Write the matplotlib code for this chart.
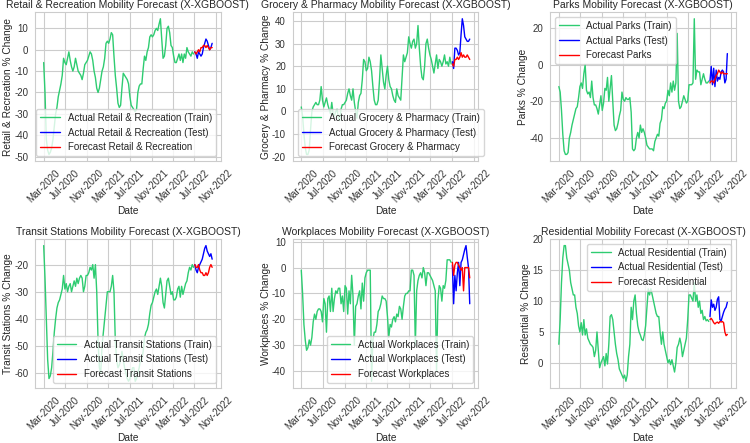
import matplotlib
matplotlib.use("Agg")
import matplotlib.pyplot as plt
import matplotlib.dates as mdates
import seaborn as sns
import pandas as pd

sns.set_style("whitegrid")
plt.rcParams['font.family'] = ['Liberation Sans', 'DejaVu Sans']
plt.rcParams['axes.unicode_minus'] = False

# weekly-ish readings, train Mar-2020 .. late Jun-2022, test Jul .. early Oct 2022
retail_train = [-6, -20, -42, -47, -49, -48, -46, -42, -36, -30, -27, -22, -19, -16, -12, -4,
                -6, -7, -4, -1, -5, -8, -10, -8, -4, -7, -10, -11, -12, -14, -11, -7, -6, -5,
                -3, -1, -2, -5, -10, -13, -18, -20, -18, -14, -10, -8, -4, 3, 4, 3, 5, 8, 7,
                -3, -12, -18, -25, -27, -26, -18, -11, -12, -13, -14, -16, -22, -26, -27, -28,
                -29, -28, -20, -17, -16, -16, -9, -3, -5, -1, 1, 6, 7, 6, 7, 9, 10, 9, 12, 14.5,
                5, -4, -3, 2, 10, 11, 8, 2, 1, -3, -6, -6, -4, -2, -5, -2, -6, -2, -4, 1, -1,
                -2, -3, -1, -2]
retail_test = [-1, -2, -4, -1, -2, -3, -2, 1, 3, 5, 4, 2, 0, 1, 3]
retail_fc = [-1, -2, -1, 0, -1, 1, 1, 2, 2, 1, 2, 1, 0, 1, 1]

grocery_train = [2, -2, -10, -16, -19, -19, -17, -8, 0, 2, 3, 4, 3, 3, 5, 11, 5, 2, 4, 6, 3,
                 1, -1, 4, -1, -2, 0, 1, -3, -4, 1, 3, 3, 4, 5, 8, 10, 7, 5, 10, 4, 0, -3, 4,
                 7, 8, 14, 23, 22, 18, 19, 24, 22, 18, 11, 5, 3, 3, 5, 14, 25, 19, 13, 10, 16,
                 20, 14, 11, 10, 7, 5, 4, 10, 7, 6, 5, 15, 25, 22, 24, 26, 33, 30, 28, 31, 32,
                 28, 30, 38, 28, 20, 15, 14, 20, 30, 32, 28, 25, 23, 20, 17, 21, 25, 19, 23,
                 22, 20, 22, 25, 21, 22, 20, 24, 21]
grocery_test = [22, 19, 28, 28, 27, 25, 26, 34, 41, 38, 33, 32, 31, 31, 32]
grocery_fc = [21, 20, 23, 23, 24, 23, 24, 26, 24, 25, 24, 24, 25, 24, 23]

parks_train = [-12, -15, -25, -38, -47, -49, -49, -48, -40, -37, -33, -30, -27, -24, -23, -18,
               -12, -10, -13, -5, 0, -14, -16, -15, -18, -9, -18, -22, -22, -24, -27, -22, -17,
               -25, -21, -13, -14, -7, -20, -13, -6, -20, -33, -36, -35, -32, -28, -25, -15,
               -19, -20, -18, -19, -19, -18, -26, -46, -47, -46, -40, -37, -40, -33, -37, -35,
               -37, -40, -44, -45, -46, -46, -46, -47, -42, -40, -38, -39, -32, -30, -23, -24,
               -21, -20, -14, -17, -10, -15, -9, -14, -10, 17, -20, -24, -23, -20, -17, -19,
               -21, -20, -11, -11, -11, -10, 25, -8, -3, -4, -4, -11, -8, -5, -8, -10, -10, -9]
parks_test = [-9, -1, -11, -2, -12, -3, -9, -7, -8, -4, -3, -4, -10, -8, 6]
parks_fc = [-10, -9, -9, -10, -8, -6, -5, -3, -4, -5, -4, -5, -5, -5, -5]

transit_train = [-13, -25, -40, -55, -62, -61, -58, -52, -45, -40, -36, -34, -33, -31, -29,
                 -24, -29, -27, -30, -28, -27, -30, -28, -26, -28, -25, -27, -25, -24, -25,
                 -30, -28, -24, -24, -23, -21, -22, -20, -25, -20, -30, -48, -58, -60, -50,
                 -45, -40, -35, -30, -30, -30, -28, -24, -30, -48, -55, -58, -57, -55, -52,
                 -55, -58, -60, -62, -63, -62, -60, -58, -58, -63, -62, -60, -58, -55, -55,
                 -52, -47, -45, -44, -42, -38, -35, -34, -32, -30, -29, -31, -28, -25, -28,
                 -34, -36, -31, -26, -25, -28, -31, -30, -33, -33, -32, -29, -28, -32, -28,
                 -31, -29, -27, -26, -23, -21, -22, -20, -21]
transit_test = [-20, -22, -23, -21, -20, -19, -18, -16, -14, -13, -15, -16, -17, -16, -18]
transit_fc = [-20, -21, -21, -20, -22, -23, -23, -24, -24, -23, -24, -23, -21, -20, -21]

work_train = [-1, -10, -22, -28, -32, -31, -28, -30, -27, -21, -18, -20, -17, -16, -16, -17,
              -21, -12, -14, -25, -12, -11, -17, -8, -17, -12, -9, -10, -8, -8, -14, -11,
              -17, -7, -8, -18, -9, -14, -3, -11, -30, -15, -14, -11, -9, -16, -6, -13, -4,
              -2, -1, -1, -1, -44, -28, -25, -25, -22, -17, -16, -14, -11, -12, -12, -13,
              -19, -27, -22, -23, -20, -19, -21, -18, -19, -15, -16, -20, -15, -11, -10, -10,
              -9, -9, -1, -1, -3, -30, -9, -5, -3, -2, -4, 0, -2, -7, -2, -2, -3, -4, -5, -7,
              -9, -40, -13, -7, -8, -13, -7, -8, -5, 3, 3, 3, 2]
work_test = [1, -14, -3, -9, -2, 2, -7, 2, 3, 5, 7, 8.5, 4, 0, -14]
work_fc = [2, -3, 1, 2, 2, 1, 0, -1, 0, -9, 0, 0, 0, 0, -4]

resid_train = [3, 7, 13, 17, 19, 19, 17, 16, 15, 13, 12, 11, 11, 9, 8, 6, 5, 6.5, 4.5, 7, 4.5,
               5.5, 4, 3.5, 3, 2.8, 2.5, 1, 2, 5, 2, -0.8, 0, 0.5, 1, -0.5, 1.5, -0.2, 3, 7.5,
               7.8, 7, 5, 3, 1.5, 0.5, -1, -1.5, -2, -2.5, -2, -3, -2, 1, 3, 9, 7, 10, 11, 8, 6,
               5, 4.5, 3.8, 3.6, 4.5, 6, 9, 12, 11, 12, 11, 10, 9, 8, 7.5, 7.5, 5, 3, 5, 3, 2,
               1, 0, 0.5, -0.3, 0.5, -0.5, -1.5, 0, 2.5, 3, 4, 3, 1, 2, 3, 4, 7, 11, 11, 10.5,
               10, 13, 10, 11, 9, 10, 8, 8.5, 7, 7.5, 6.8, 7, 6.7]
resid_test = [7.5, 10.2, 9, 9.5, 8.5, 9, 10.3, 10.7, 7, 6.8, 7.5, 8.2, 8.7, 9, 9.8]
resid_fc = [7, 7.2, 6.9, 6.5, 6.3, 6.5, 6.6, 6.4, 6.7, 6.6, 6.7, 6.5, 5, 4.4, 4.6]

names = ['Retail & Recreation', 'Grocery & Pharmacy', 'Parks',
         'Transit Stations', 'Workplaces', 'Residential']
trains = [retail_train, grocery_train, parks_train, transit_train, work_train, resid_train]
tests = [retail_test, grocery_test, parks_test, transit_test, work_test, resid_test]
fcs = [retail_fc, grocery_fc, parks_fc, transit_fc, work_fc, resid_fc]
legend_locs = ['lower right', 'lower left', 'upper left', 'lower right', 'lower right', 'upper right']

fig, axes = plt.subplots(2, 3, figsize=(7.5, 4.43), dpi=100)
fig.subplots_adjust(left=0.047, right=0.981, top=0.973, bottom=0.124, wspace=0.39, hspace=0.52)

for ax, name, tr, te, fc, loc in zip(axes.flat, names, trains, tests, fcs, legend_locs):
    tr_dates = pd.date_range('2020-03-01', '2022-06-26', periods=len(tr))
    te_dates = pd.date_range('2022-07-03', '2022-10-09', periods=len(te))
    ax.plot(tr_dates, tr, color='#2ecc71', lw=1.0, label=f'Actual {name} (Train)')
    ax.plot(te_dates, te, color='blue', lw=1.0, label=f'Actual {name} (Test)')
    ax.plot(te_dates, fc, color='red', lw=1.0, label=f'Forecast {name}')
    ax.set_title(f'{name} Mobility Forecast (X-XGBOOST)', fontsize=7.5, pad=3)
    ax.set_xlabel('Date', fontsize=7.3, labelpad=1)
    ax.set_ylabel(f'{name} % Change', fontsize=7.3, labelpad=1)
    ax.xaxis.set_major_locator(mdates.MonthLocator(bymonth=[3, 7, 11]))
    ax.xaxis.set_major_formatter(mdates.DateFormatter('%b-%Y'))
    ax.tick_params(axis='both', labelsize=7, pad=1.5, colors='#333333')
    plt.setp(ax.get_xticklabels(), rotation=45)
    ax.legend(loc=loc, fontsize=7)

fig.savefig('out.png', dpi=100)
